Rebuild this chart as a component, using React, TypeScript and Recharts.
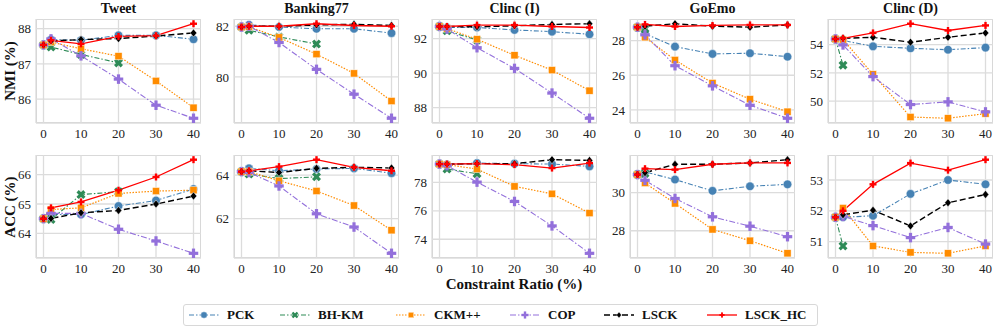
import React from 'react';
import { LineChart, Line, XAxis, YAxis, CartesianGrid } from 'recharts';

const ratios = [0, 2, 10, 20, 30, 40];
const datasetNames = ['Tweet', 'Banking77', 'Clinc (I)', 'GoEmo', 'Clinc (D)'];
const xTicks = [0, 10, 20, 30, 40];

// NMI, one row per dataset
const pckNMI = [
  [87.54, 87.69, 87.67, 87.81, 87.81, 87.7],
  [81.97, 82.06, 81.97, 81.9, 81.9, 81.73],
  [92.7, 92.64, 92.64, 92.5, 92.4, 92.25],
  [28.77, 28.39, 27.65, 27.23, 27.27, 27.07],
  [54.4, 54.29, 53.88, 53.74, 53.64, 53.79],
];
const bhkmNMI = [
  [87.54, 87.48, 87.27, 87.03, null, null],
  [81.97, 81.84, 81.58, 81.3, null, null],
  [92.7, 92.45, 91.92, null, null, null],
  [28.77, 28.68, null, null, null, null],
  [54.4, 52.55, null, null, null, null],
];
const ckmNMI = [
  [87.54, 87.62, 87.43, 87.22, 86.52, 85.76],
  [81.97, 81.98, 81.56, 80.9, 80.14, 79.05],
  [92.7, 92.58, 91.96, 91.03, 90.17, 88.98],
  [28.77, 28.19, 26.88, 25.55, 24.62, 23.9],
  [54.4, 54.36, 51.9, 48.88, 48.79, 49.12],
];
const copNMI = [
  [87.54, 87.71, 87.23, 86.57, 85.83, 85.46],
  [81.97, 82.0, 81.36, 80.3, 79.32, 78.37],
  [92.7, 92.55, 91.47, 90.27, 88.84, 87.38],
  [28.77, 28.33, 26.55, 25.39, 24.27, 23.52],
  [54.4, 53.98, 51.74, 49.76, 49.95, 49.24],
];
const lsckNMI = [
  [87.54, 87.65, 87.69, 87.72, 87.79, 87.88],
  [81.97, 82.0, 82.0, 82.05, 82.08, 82.03],
  [92.7, 92.7, 92.68, 92.74, 92.82, 92.86],
  [28.77, 28.83, 28.97, 28.83, 28.77, 28.9],
  [54.4, 54.45, 54.52, 54.17, 54.52, 54.83],
];
const lsckhcNMI = [
  [87.54, 87.67, 87.57, 87.78, 87.8, 88.14],
  [81.97, 82.0, 82.0, 82.1, 82.03, 82.0],
  [92.7, 92.7, 92.78, 92.78, 92.7, 92.64],
  [28.77, 28.93, 28.81, 28.87, 28.9, 28.9],
  [54.4, 54.45, 54.83, 55.48, 55.0, 55.36],
];

// ACC, one row per dataset
const pckACC = [
  [64.5, 64.64, 64.64, 64.93, 65.12, 65.51],
  [64.16, 64.31, 64.2, 64.28, 64.31, 64.09],
  [79.29, 79.25, 79.36, 79.32, 79.29, 79.13],
  [30.94, 31.08, 30.68, 30.09, 30.33, 30.43],
  [51.79, 51.79, 51.84, 52.55, 53.0, 52.86],
];
const bhkmACC = [
  [64.5, 64.47, 65.32, 65.42, null, null],
  [64.16, 64.05, 63.84, 63.92, null, null],
  [79.29, 78.94, 78.61, null, null, null],
  [30.94, 30.99, null, null, null, null],
  [51.79, 50.86, null, null, null, null],
];
const ckmACC = [
  [64.5, 64.81, 64.87, 65.36, 65.44, 65.47],
  [64.16, 64.16, 63.74, 63.27, 62.6, 61.46],
  [79.29, 79.25, 78.94, 77.72, 77.2, 75.84],
  [30.94, 30.5, 29.43, 28.07, 27.48, 26.82],
  [51.79, 52.09, 50.86, 50.65, 50.62, 50.86],
];
const copACC = [
  [64.5, 64.68, 64.68, 64.14, 63.74, 63.32],
  [64.16, 64.12, 63.5, 62.22, 61.61, 60.4],
  [79.29, 79.18, 78.02, 76.66, 74.94, 73.01],
  [30.94, 30.64, 29.69, 28.73, 28.24, 27.69],
  [51.79, 51.82, 51.52, 51.13, 51.46, 50.92],
];
const lsckACC = [
  [64.5, 64.51, 64.7, 64.78, 65.0, 65.27],
  [64.16, 64.2, 64.12, 64.31, 64.36, 64.33],
  [79.29, 79.29, 79.32, 79.32, 79.6, 79.55],
  [30.94, 31.04, 31.48, 31.48, 31.55, 31.72],
  [51.79, 51.87, 52.02, 51.51, 52.26, 52.53],
];
const lsckhcACC = [
  [64.5, 64.87, 65.07, 65.47, 65.92, 66.51],
  [64.16, 64.2, 64.39, 64.71, 64.36, 64.2],
  [79.29, 79.29, 79.32, 79.25, 79.01, 79.36],
  [30.94, 31.25, 31.2, 31.48, 31.55, 31.55],
  [51.79, 52.0, 52.86, 53.55, 53.32, 53.66],
];

const nmiTicks = [[86, 87, 88], [80, 82], [88, 90, 92], [24, 26, 28], [50, 52, 54]];
const accTicks = [[64, 65, 66], [62, 64], [74, 76, 78], [28, 30], [51, 52, 53]];

const FONT = '"Liberation Serif", "Times New Roman", serif';

const methods = [
  { key: 'PCK', color: '#4682b4', dash: '5 2 1.5 2', width: 1.1, marker: 'circle' },
  { key: 'BH-KM', color: '#2e8b57', dash: '5 2 1.5 2', width: 1.1, marker: 'x' },
  { key: 'CKM++', color: '#ff8c00', dash: '1.5 1.5', width: 1.2, marker: 'square' },
  { key: 'COP', color: '#9370db', dash: '6 2 1.5 2', width: 1.1, marker: 'plus' },
  { key: 'LSCK', color: '#000000', dash: '6 3', width: 1.4, marker: 'diamond' },
  { key: 'LSCK_HC', color: '#ff0000', dash: undefined, width: 1.3, marker: 'star' },
];

const plotLefts = [36, 234, 432, 630, 828];
const PLOT_W = 165;
const Y_AXIS_W = 40;
const X_AXIS_H = 22;

function Marker({ kind, color, cx, cy }: { kind: string; color: string; cx: number; cy: number }) {
  const edge = { stroke: '#ffffff', strokeWidth: 0.6, strokeOpacity: 0.8 };
  if (kind === 'circle') return <circle cx={cx} cy={cy} r={4.3} fill={color} {...edge} />;
  if (kind === 'square') return <rect x={cx - 3.6} y={cy - 3.6} width={7.2} height={7.2} fill={color} {...edge} />;
  if (kind === 'diamond')
    return <polygon points={`${cx},${cy - 4} ${cx + 3.3},${cy} ${cx},${cy + 4} ${cx - 3.3},${cy}`} fill={color} {...edge} />;
  const size = kind === 'star' ? 7 : 9.5;
  const thick = kind === 'star' ? 2.4 : 3.2;
  const rot = kind === 'x' ? 45 : 0;
  return (
    <g transform={`translate(${cx},${cy}) rotate(${rot})`} fill={color}>
      <rect x={-size / 2} y={-thick / 2} width={size} height={thick} />
      <rect x={-thick / 2} y={-size / 2} width={thick} height={size} />
    </g>
  );
}

function paddedDomain(series: (number | null)[][]): [number, number] {
  const vals = series.flat().filter((v): v is number => v != null);
  const lo = Math.min(...vals);
  const hi = Math.max(...vals);
  const pad = (hi - lo) * 0.05;
  return [lo - pad, hi + pad];
}

function Panel({ groups, d, ticks, top, height }: {
  groups: (number | null)[][][]; d: number; ticks: number[]; top: number; height: number;
}) {
  const rows = ratios.map((r, i) => {
    const row: Record<string, number | null> = { ratio: r };
    methods.forEach((m, k) => { row[m.key] = groups[k][d][i]; });
    return row;
  });
  const domain = paddedDomain(groups.map((g) => g[d]));
  const left = plotLefts[d];
  return (
    <>
      <div style={{
        position: 'absolute', left, top, width: PLOT_W, height,
        boxSizing: 'border-box', border: '1px solid #d0d0d0',
      }} />
      <div style={{ position: 'absolute', left: left - Y_AXIS_W, top }}>
        <LineChart
          width={Y_AXIS_W + PLOT_W}
          height={height + X_AXIS_H}
          data={rows}
          margin={{ top: 0, right: 0, bottom: 0, left: 0 }}
        >
          <CartesianGrid stroke="#dcdcdc" strokeWidth={1.3} />
          <XAxis
            dataKey="ratio" type="number" domain={[-2, 42]} ticks={xTicks} interval={0}
            tickLine={false} axisLine={false} tickSize={4} tickMargin={2} height={X_AXIS_H}
            tick={{ fontSize: 13, fill: '#222', fontFamily: FONT }}
          />
          <YAxis
            type="number" domain={domain} ticks={ticks} allowDataOverflow interval={0}
            tickLine={false} axisLine={false} tickSize={2} tickMargin={3} width={Y_AXIS_W}
            tick={{ fontSize: 13, fill: '#222', fontFamily: FONT }}
          />
          {methods.map((m) => (
            <Line
              key={m.key}
              dataKey={m.key}
              stroke={m.color}
              strokeWidth={m.width}
              strokeDasharray={m.dash}
              isAnimationActive={false}
              connectNulls={false}
              activeDot={false}
              dot={(p: any) => {
                if (p.cy == null || p.value == null) return <g key={`${m.key}-${p.index}`} />;
                return (
                  <g key={`${m.key}-${p.index}`}>
                    <Marker kind={m.marker} color={m.color} cx={p.cx} cy={p.cy} />
                  </g>
                );
              }}
            />
          ))}
        </LineChart>
      </div>
    </>
  );
}

const legendLefts = [5, 96, 212, 326, 420, 523];

function LegendBox() {
  return (
    <div style={{
      position: 'absolute', left: 183, top: 304, width: 635, height: 22,
      boxSizing: 'border-box', border: '1px solid #d8d8d8', borderRadius: 3, background: '#fff',
    }}>
      {methods.map((m, i) => (
        <div key={m.key} style={{ position: 'absolute', left: legendLefts[i], top: 0, height: 20, display: 'flex', alignItems: 'center' }}>
          <svg width={30} height={12}>
            <line x1={0} y1={6} x2={30} y2={6} stroke={m.color} strokeWidth={m.width} strokeDasharray={m.dash} />
            <g transform="translate(15,6) scale(0.75) translate(-15,-6)">
              <Marker kind={m.marker} color={m.color} cx={15} cy={6} />
            </g>
          </svg>
          <span style={{ marginLeft: 8, fontFamily: FONT, fontWeight: 'bold', fontSize: 13, color: '#111' }}>{m.key}</span>
        </div>
      ))}
    </div>
  );
}

export default function App() {
  const nmiGroups = [pckNMI, bhkmNMI, ckmNMI, copNMI, lsckNMI, lsckhcNMI];
  const accGroups = [pckACC, bhkmACC, ckmACC, copACC, lsckACC, lsckhcACC];
  const titleStyle: React.CSSProperties = {
    position: 'absolute', top: 1, width: PLOT_W, textAlign: 'center',
    fontFamily: FONT, fontWeight: 'bold', fontSize: 14, lineHeight: '16px', color: '#111',
  };
  const yLabel = (text: string, cy: number) => (
    <div style={{
      position: 'absolute', left: 10 - 50, top: cy - 9, width: 100, height: 18,
      transform: 'rotate(-90deg)', textAlign: 'center', lineHeight: '18px',
      fontFamily: FONT, fontWeight: 'bold', fontSize: 15, color: '#111',
    }}>{text}</div>
  );
  return (
    <div style={{ position: 'absolute', left: 0, top: 0, width: 997, height: 329, background: '#fff', overflow: 'hidden' }}>
      {datasetNames.map((name, d) => (
        <div key={name} style={{ ...titleStyle, left: plotLefts[d] }}>{name}</div>
      ))}
      {datasetNames.map((name, d) => (
        <Panel key={`nmi-${name}`} groups={nmiGroups} d={d} ticks={nmiTicks[d]} top={19} height={104} />
      ))}
      {datasetNames.map((name, d) => (
        <Panel key={`acc-${name}`} groups={accGroups} d={d} ticks={accTicks[d]} top={155} height={103} />
      ))}
      {yLabel('NMI (%)', 71)}
      {yLabel('ACC (%)', 207)}
      <div style={{
        position: 'absolute', left: 414, top: 277, width: 200, textAlign: 'center',
        fontFamily: FONT, fontWeight: 'bold', fontSize: 15, lineHeight: '14px', color: '#111',
      }}>Constraint Ratio (%)</div>
      <LegendBox />
    </div>
  );
}
